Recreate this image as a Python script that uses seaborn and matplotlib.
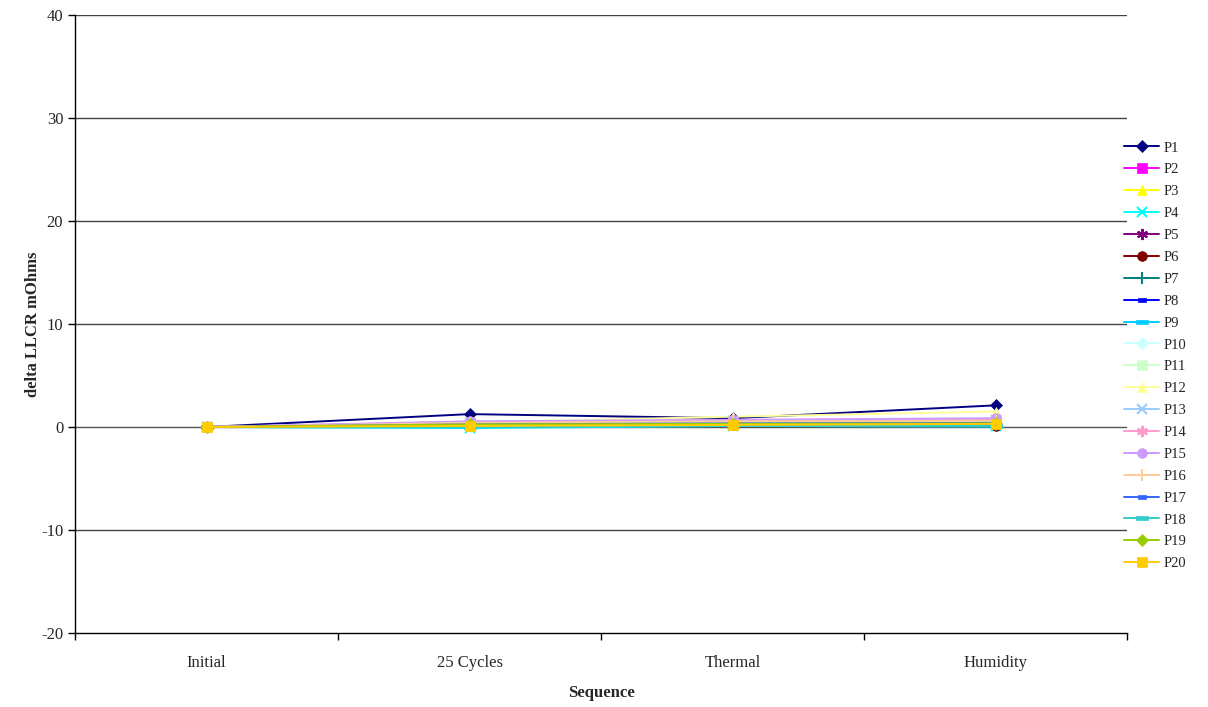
import numpy as np
import pandas as pd
import matplotlib
matplotlib.use("Agg")
import matplotlib.pyplot as plt
import matplotlib.ticker as mticker
import seaborn as sns

sequence = ["Initial", "25 Cycles", "Thermal", "Humidity"]
series = ["P%d" % i for i in range(1, 21)]

P1 = [0, 1.25, 0.85, 2.1]
P2 = [0, 0.35, 0.45, 0.5]
P3 = [0, 0.1, 0.3, 0.4]
P4 = [0, -0.1, 0.1, 0.05]
P5 = [0, 0.2, 0.35, 0.3]
P6 = [0, 0.15, 0.2, 0.1]
P7 = [0, 0.05, 0.25, 0.2]
P8 = [0, 0.1, 0.2, 0.25]
P9 = [0, -0.05, 0.15, 0.15]
P10 = [0, 0.2, 0.4, 0.45]
P11 = [0, 0.3, 0.5, 0.55]
P12 = [0, 0.45, 1.0, 1.5]
P13 = [0, 0.4, 0.6, 0.7]
P14 = [0, 0.5, 0.65, 0.75]
P15 = [0, 0.55, 0.7, 0.85]
P16 = [0, 0.4, 0.55, 0.6]
P17 = [0, 0.25, 0.35, 0.4]
P18 = [0, 0.0, 0.1, 0.1]
P19 = [0, 0.25, 0.3, 0.35]
P20 = [0, 0.1, 0.2, 0.3]
values = [P1, P2, P3, P4, P5, P6, P7, P8, P9, P10,
          P11, P12, P13, P14, P15, P16, P17, P18, P19, P20]

colors = ["#000080", "#FF00FF", "#FFFF00", "#00FFFF", "#800080",
          "#800000", "#008080", "#0000FF", "#00CCFF", "#CCFFFF",
          "#CCFFCC", "#FFFF99", "#99CCFF", "#FF99CC", "#CC99FF",
          "#FFCC99", "#3366FF", "#33CCCC", "#99CC00", "#FFCC00"]

short_dash = [(-1, -0.4), (1, -0.4), (1, 0.4), (-1, 0.4), (-1, -0.4)]
long_dash = [(-1, -0.25), (1, -0.25), (1, 0.25), (-1, 0.25), (-1, -0.25)]
markers = ["D", "s", "^", "x", (6, 2, 0), "o", "+", short_dash, long_dash, "D",
           "s", "^", "x", (6, 2, 0), "o", "+", short_dash, long_dash, "D", "s"]
msizes = [6, 7, 7, 7, 8, 7, 8, 6, 9, 6,
          7, 7, 7, 8, 7, 8, 6, 9, 6, 7]
line_markers = ("x", "+")

rows = []
for name, vals in zip(series, values):
    for seq, v in zip(sequence, vals):
        rows.append({"Sequence": seq, "value": v, "series": name})
df = pd.DataFrame(rows)

sns.set_style("white")
plt.rcParams["font.family"] = ["Liberation Serif", "DejaVu Serif"]
plt.rcParams["axes.unicode_minus"] = False

fig = plt.figure(figsize=(12.08, 7.07), dpi=100)
ax = fig.add_axes([0.0621, 0.1047, 0.8709, 0.8741])

for i, name in enumerate(series):
    sub = df[df["series"] == name]
    m = markers[i]
    thin = (isinstance(m, str) and m in line_markers) or isinstance(m, tuple)
    sns.lineplot(data=sub, x="Sequence", y="value", ax=ax, color=colors[i],
                 marker=m, markersize=msizes[i], linewidth=1.4,
                 markeredgecolor=colors[i], markeredgewidth=1.5 if thin else 0.5,
                 label=name, zorder=3 + i * 0.01, sort=False)

ax.set_xlim(-0.5, 3.5)
ax.set_ylim(-20, 40)
ax.set_yticks(np.arange(-20, 41, 10))
ax.set_xticks(range(4))
ax.set_xticklabels(sequence)
ax.xaxis.set_minor_locator(mticker.FixedLocator(np.arange(-0.5, 3.6, 1)))
ax.tick_params(axis="x", which="major", length=0, labelsize=12, pad=16)
ax.tick_params(axis="x", which="minor", bottom=True, length=5, width=1,
               direction="out", color="black")
ax.tick_params(axis="y", which="major", length=5, width=1, direction="out",
               color="black", labelsize=12, left=True)
for y in np.arange(-10, 41, 10):
    ax.axhline(y, color="#444444" if y != 0 else "#555555", linewidth=1.0, zorder=1)
for s in ["top", "right"]:
    ax.spines[s].set_visible(False)
ax.spines["left"].set_color("black")
ax.spines["bottom"].set_color("black")
ax.spines["left"].set_linewidth(1.0)
ax.spines["bottom"].set_linewidth(1.0)

ax.set_xlabel("Sequence", fontsize=12, fontweight="bold", labelpad=10)
ax.set_ylabel("delta LLCR mOhms", fontsize=12, fontweight="bold", labelpad=0)

leg = ax.legend(loc="upper left", bbox_to_anchor=(0.992, 0.805), frameon=False,
                fontsize=10.5, handlelength=2.4, labelspacing=0.595,
                handletextpad=0.3, borderaxespad=0.0)

fig.savefig("out.png", dpi=100)
